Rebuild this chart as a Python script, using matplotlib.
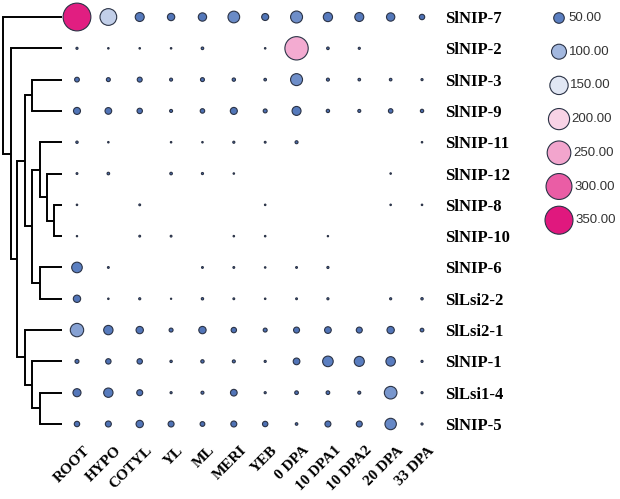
import numpy as np
import matplotlib
matplotlib.use("Agg")
import matplotlib.pyplot as plt
from matplotlib.colors import LinearSegmentedColormap
from matplotlib.transforms import ScaledTranslation

# tissues / samples (columns)
tissues = ['ROOT', 'HYPO', 'COTYL', 'YL', 'ML', 'MERI', 'YEB', '0 DPA',
           '10 DPA1', '10 DPA2', '20 DPA', '33 DPA']

# genes in dendrogram order (top to bottom)
genes = ['SlNIP-7', 'SlNIP-2', 'SlNIP-3', 'SlNIP-9', 'SlNIP-11', 'SlNIP-12',
         'SlNIP-8', 'SlNIP-10', 'SlNIP-6', 'SlLsi2-2', 'SlLsi2-1', 'SlNIP-1',
         'SlLsi1-4', 'SlNIP-5']

# expression values (0 = no dot)
nip7   = [345, 125, 36, 24, 31, 61, 22, 64, 38, 36, 31, 13]
nip2   = [2, 1, 1, 1, 3, 0, 1, 243, 3, 2, 0, 0]
nip3   = [10, 7, 11, 4, 7, 5, 3, 64, 4, 3, 3, 2]
nip9   = [22, 20, 13, 4, 9, 22, 7, 36, 5, 4, 9, 5]
nip11  = [2.5, 1, 0, 1, 1, 2, 1.5, 4, 0, 0, 0, 1]
nip12  = [1.5, 3, 0, 3, 2, 1, 0, 0, 0, 0, 1, 0]
nip8   = [1, 0, 1.5, 0, 0, 0, 1, 0, 0, 0, 1, 1]
nip10  = [0.8, 0, 1.5, 1.5, 0, 1, 1, 0, 0.8, 0, 0, 0]
nip6   = [50, 1.5, 0, 0, 1.5, 1.5, 1, 1.5, 2, 0, 0, 0]
lsi22  = [24, 1, 2, 0.7, 2.5, 1.5, 1, 1.5, 2, 0, 2, 2.5]
lsi21  = [80, 39, 24, 7, 24, 13, 7, 16, 20, 16, 24, 6]
nip1   = [7, 13, 13, 2.5, 5, 4, 2, 20, 50, 45, 40, 2]
lsi14  = [29, 39, 16, 2, 4, 20, 2, 6, 6, 4, 71, 2]
nip5   = [13, 16, 24, 16, 10, 16, 13, 3, 16, 16, 58, 2]
values = np.array([nip7, nip2, nip3, nip9, nip11, nip12, nip8, nip10,
                   nip6, lsi22, lsi21, nip1, lsi14, nip5], dtype=float)

# dendrogram merges: (left, right, height); ids >= 14 are earlier merges
merges = [(6, 7, 8),      # 14
          (5, 14, 15),    # 15
          (4, 15, 22),    # 16
          (8, 9, 22),     # 17
          (16, 17, 30),   # 18
          (2, 3, 30),     # 19
          (19, 18, 37),   # 20
          (12, 13, 22),   # 21
          (11, 21, 30),   # 22
          (10, 22, 37),   # 23
          (20, 23, 45),   # 24
          (1, 24, 51),    # 25
          (0, 25, 59)]    # 26

legend_vals = [50, 100, 150, 200, 250, 300, 350]

cmap = LinearSegmentedColormap.from_list(
    'nip', [(0.0, '#4a6db0'), (50/350, '#5b7fc1'), (100/350, '#a3b8df'),
            (150/350, '#e1e7f4'), (200/350, '#f8d3e6'), (250/350, '#f2a5cd'),
            (300/350, '#ea5ea5'), (1.0, '#e0187e')])
size_k = 406 / 350.0
edge = '#2b3346'
serif = ['Liberation Serif', 'DejaVu Serif']

W, H = 620, 499
fig = plt.figure(figsize=(W/100, H/100), dpi=100)

ax_l, ax_r = 61.3, 437.7
ax_t, ax_b = 1.35, 439.65
ax = fig.add_axes([ax_l/W, 1 - ax_b/H, (ax_r-ax_l)/W, (ax_b-ax_t)/H])
ax.set_xlim(-0.5, len(tissues) - 0.5)
ax.set_ylim(len(genes) - 0.5, -0.5)

yy, xx = np.meshgrid(np.arange(len(genes)), np.arange(len(tissues)), indexing='ij')
mask = values > 0
ax.scatter(xx[mask], yy[mask], s=values[mask]*size_k, c=values[mask],
           cmap=cmap, vmin=0, vmax=350, edgecolors=edge, linewidths=0.8,
           zorder=3)

for s in ax.spines.values():
    s.set_visible(False)
ax.yaxis.tick_right()
ax.set_yticks(range(len(genes)))
ax.set_yticklabels(genes, fontfamily=serif, fontweight='bold', fontsize=12)
ax.set_xticks(range(len(tissues)))
ax.set_xticklabels(tissues, fontfamily=serif, fontweight='bold', fontsize=11,
                   rotation=45, ha='right', rotation_mode='anchor')
ax.tick_params(axis='both', length=0)
ax.tick_params(axis='y', pad=5)
ax.tick_params(axis='x', pad=3)
off = ScaledTranslation(6/100, 0, fig.dpi_scale_trans)
for lab in ax.get_xticklabels():
    lab.set_transform(lab.get_transform() + off)

# dendrogram
ax_d = fig.add_axes([0, 1 - ax_b/H, 62/W, (ax_b-ax_t)/H])
ax_d.set_xlim(62, 0)
ax_d.set_ylim(len(genes) - 0.5, -0.5)
ax_d.axis('off')
pos = {i: (0.0, float(i)) for i in range(len(genes))}
for k, (a, b, h) in enumerate(merges):
    ha_, ya = pos[a]
    hb, yb = pos[b]
    ax_d.plot([ha_, h, h, hb], [ya, ya, yb, yb], color='black', lw=1.4,
              solid_joinstyle='miter', solid_capstyle='butt', clip_on=False)
    pos[len(genes) + k] = (h, (ya + yb) / 2)

# size legend
ax_g = fig.add_axes([0, 0, 1, 1])
ax_g.set_xlim(0, W)
ax_g.set_ylim(H, 0)
ax_g.axis('off')
leg_y = 18 + 33.7 * np.arange(len(legend_vals))
cx = 559
ax_g.scatter([cx]*len(legend_vals), leg_y, s=np.array(legend_vals)*size_k,
             c=legend_vals, cmap=cmap, vmin=0, vmax=350, edgecolors=edge,
             linewidths=0.8)
for v, y in zip(legend_vals, leg_y):
    r = np.sqrt(v*size_k) / 0.72 / 2
    ax_g.text(max(cx + r + 2, 568), y, '%.2f' % v, fontsize=9.5,
              family='Liberation Sans', color='#333333', va='center', ha='left')

fig.savefig('out.png', dpi=100)
